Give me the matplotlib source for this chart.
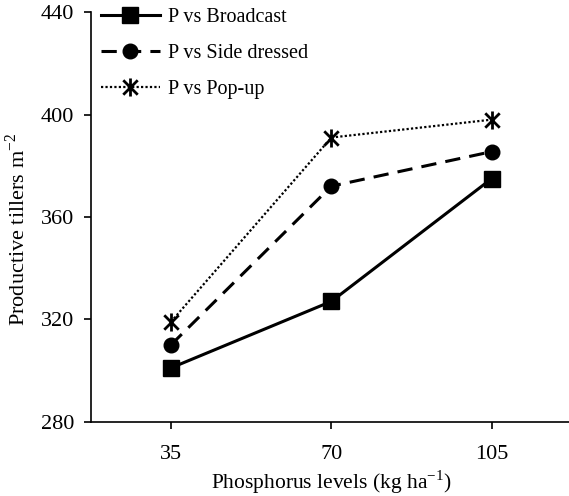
import matplotlib
matplotlib.use("Agg")
import matplotlib.pyplot as plt
from matplotlib.path import Path

levels = ["35", "70", "105"]
broadcast = [301, 327, 375]
side_dressed = [310, 372, 385.5]
pop_up = [319, 391, 398]
yticks = [280, 320, 360, 400, 440]

plt.rcParams['font.family'] = ['Liberation Serif', 'DejaVu Serif']
plt.rcParams['mathtext.fontset'] = 'custom'
plt.rcParams['mathtext.rm'] = 'Liberation Serif'

# asterisk-like marker: X with a vertical bar
star_path = Path([(-0.8, -0.8), (0.8, 0.8), (-0.8, 0.8), (0.8, -0.8), (0, -1), (0, 1)],
                 [Path.MOVETO, Path.LINETO, Path.MOVETO, Path.LINETO, Path.MOVETO, Path.LINETO])

fig = plt.figure(figsize=(5.69, 4.96), dpi=100)
ax = fig.add_axes([0.1594, 0.1498, 0.846, 0.8258])

x = [1, 2, 3]
ax.plot(x, broadcast, color='black', lw=2.2, ls='-', marker='s', ms=11,
        label='P vs Broadcast')
ax.plot(x, side_dressed, color='black', lw=2.2, ls=(0, (5, 3)), marker='o', ms=10.5,
        label='P vs Side dressed')
ax.plot(x, pop_up, color='black', lw=1.6, ls=(0, (1, 1)), marker=star_path, ms=13,
        mew=2.0, mfc='none', label='P vs Pop-up')

ax.set_xlim(0.5, 3.5)
ax.set_ylim(280, 440)
ax.set_xticks(x)
ax.set_xticklabels(levels)
ax.set_yticks(yticks)
for s in ['top', 'right']:
    ax.spines[s].set_visible(False)
for s in ['left', 'bottom']:
    ax.spines[s].set_linewidth(1.2)
ax.tick_params(axis='both', direction='out', length=5, width=1.2, labelsize=16)
ax.tick_params(axis='y', pad=7)
ax.tick_params(axis='x', pad=12)

fig.text(18 / 569, 0.537, 'Productive tillers m$^{-2}$', fontsize=16, rotation=90,
         ha='center', va='center')
fig.text(0.583, 0.014, 'Phosphorus levels (kg ha$^{-1}$)', fontsize=15.5,
         ha='center', va='baseline')

leg = ax.legend(loc='upper left', frameon=False, fontsize=14.5, handlelength=2.9,
                handletextpad=0.4, labelspacing=0.85, borderaxespad=0.0,
                bbox_to_anchor=(0.005, 1.03))

fig.savefig('out.png', dpi=100)
